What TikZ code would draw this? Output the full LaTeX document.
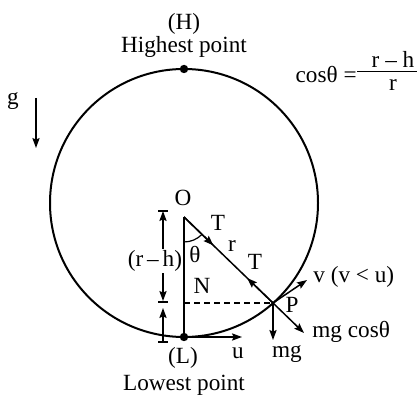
\documentclass[tikz,border=0pt]{standalone}
\usepackage{fontspec}
\setmainfont{Liberation Serif}
\usetikzlibrary{arrows.meta,calc}
\begin{document}
\begin{tikzpicture}[x=0.5pt,y=0.5pt,
  every node/.style={font=\fontsize{11.6}{14}\selectfont, inner sep=0pt},
  ln/.style={line width=0.75pt},
  arr/.style={line width=0.75pt,-{Stealth[length=5pt,width=3.6pt,inset=0.8pt]}},
  dot/.style={circle,fill=black,minimum size=4.2pt,inner sep=0pt},
  lbl/.style={fill=white,inner sep=0.5pt}]
\useasboundingbox (0,0) rectangle (417,401);
% main points
\coordinate (C) at (184,198);
\coordinate (O) at (184,184);
\coordinate (P) at (273,98);
\draw[line width=1pt] (C) circle[radius=67pt];
% dimension lines
\coordinate (d1) at (163,190);
\coordinate (d2) at (163,99);
\coordinate (d3) at (163,59);
\coordinate (d4) at (163,93);
\draw[ln] ($(d1)+(-5,0)$) -- ($(d1)+(5,0)$);
\draw[ln] ($(d2)+(-5,0)$) -- ($(d2)+(5,0)$);
\draw[ln] ($(d3)+(-5,0)$) -- ($(d3)+(5,0)$);
\draw[arr,{Stealth[length=5pt,width=3.6pt,inset=0.8pt]}-{Stealth[length=5pt,width=3.6pt,inset=0.8pt]}] (d1) -- ($(d2)+(0,1)$);
\draw[arr] (d3) -- (d4);
\node[lbl] (rh) at (155,140) {(r\,–\,h)};
% O and vertical line
\node (Ol) at (183,203) {O};
\draw[line width=1.2pt] (O) -- (184,64);
\node[dot] (H) at (184,332) {};
\node[dot] (L) at (184,64) {};
% labels top / bottom
\node (Hl) at (184,377) {(H)};
\node (Hp) at (184,354) {Highest point};
\node (Ll) at (183,43) {(L)};
\node (Lp) at (184,16) {Lowest point};
% formula
\node[anchor=east] (cos) at (357,326) {cosθ =};
\coordinate (fb1) at (357,329);
\coordinate (fb2) at (417,329);
\draw[line width=0.5pt] (fb1) -- (fb2);
\node (num) at (393,342) {r – h};
\node (den) at (393,316) {r};
% gravity
\coordinate (g1) at (36,303);
\coordinate (g2) at (36,253);
\draw[arr] (g1) -- (g2);
\node (g) at (13,300) {g};
% string O-P and extension
\coordinate (E) at (304,68);
\draw[ln] (O) -- (P);
\draw[arr] (P) -- (E);
\draw[arr] (O) -- ($(O)!0.33!(P)$);
\draw[arr] (P) -- ($(O)!0.71!(P)$);
\node (T1) at (218,178) {T};
\node (T2) at (255,139) {T};
\node (rl) at (232,155) {r};
% theta arc
\draw[line width=0.6pt] ($(O)+(0,-25)$) arc[start angle=270, end angle=316, radius=12.5pt];
\node (th) at (195,146) {θ};
% dashed horizontal
\coordinate (Nd) at (184,98);
\draw[ln,dashed,dash pattern=on 3pt off 2pt] (Nd) -- (P);
\node (N) at (202,115) {N};
% forces at P
\coordinate (mgt) at (273,61);
\draw[arr] (P) -- (mgt);
\node (mg) at (287,47) {mg};
\coordinate (vt) at (307,121);
\draw[arr] (P) -- (vt);
\node[anchor=west] (vl) at (313,124) {v (v < u)};
\node[anchor=west] (mgc) at (312,69) {mg cosθ};
\node (Pl) at (292,96) {P};
% u at L
\coordinate (ut) at (242,64);
\draw[arr] (L) -- (ut);
\node (u) at (238,48) {u};
\end{tikzpicture}
\end{document}
